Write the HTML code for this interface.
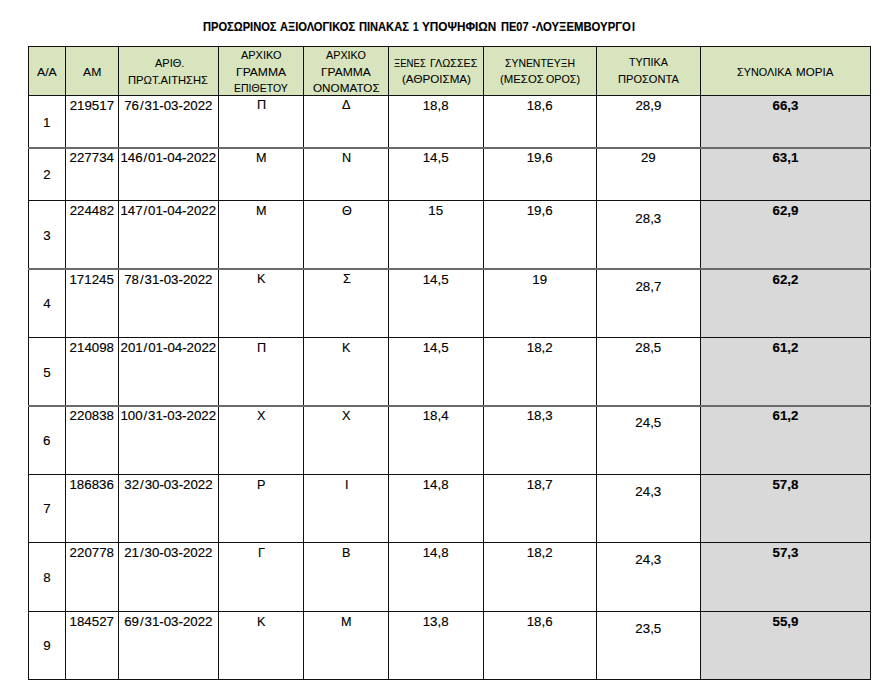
<!DOCTYPE html>
<html><head><meta charset="utf-8"><style>
html,body{margin:0;padding:0;background:#fff;}
body{width:895px;height:694px;position:relative;overflow:hidden;font-family:'Liberation Sans', sans-serif;color:#000;}
.f{position:absolute;}
.t{position:absolute;line-height:0;white-space:nowrap;transform-origin:0 0;-webkit-text-stroke:0.15px #000;}
.h{-webkit-text-stroke:0.06px #000;}
</style></head><body>
<div class="f" style="left:28px;top:46px;width:842px;height:49px;background:#d7e4bd"></div>
<div class="f" style="left:700px;top:96px;width:170px;height:583px;background:#d9d9d9"></div>
<div class="f" style="left:28px;top:46px;width:1px;height:634px;background:#111"></div>
<div class="f" style="left:65px;top:46px;width:1px;height:634px;background:#111"></div>
<div class="f" style="left:118px;top:46px;width:1px;height:634px;background:#111"></div>
<div class="f" style="left:218px;top:46px;width:1px;height:634px;background:#111"></div>
<div class="f" style="left:303px;top:46px;width:1px;height:634px;background:#111"></div>
<div class="f" style="left:388px;top:46px;width:1px;height:634px;background:#111"></div>
<div class="f" style="left:483px;top:46px;width:1px;height:634px;background:#111"></div>
<div class="f" style="left:596px;top:46px;width:1px;height:634px;background:#111"></div>
<div class="f" style="left:700px;top:46px;width:1px;height:634px;background:#111"></div>
<div class="f" style="left:870px;top:46px;width:1px;height:634px;background:#111"></div>
<div class="f" style="left:28px;top:46px;width:843px;height:1px;background:#111"></div>
<div class="f" style="left:28px;top:95px;width:843px;height:1px;background:#111"></div>
<div class="f" style="left:28px;top:147px;width:843px;height:2px;background:#6a6a6a"></div>
<div class="f" style="left:28px;top:200px;width:843px;height:1px;background:#111"></div>
<div class="f" style="left:28px;top:268px;width:843px;height:2px;background:#6a6a6a"></div>
<div class="f" style="left:28px;top:337px;width:843px;height:1px;background:#111"></div>
<div class="f" style="left:28px;top:405px;width:843px;height:2px;background:#6a6a6a"></div>
<div class="f" style="left:28px;top:474px;width:843px;height:1px;background:#111"></div>
<div class="f" style="left:28px;top:542px;width:843px;height:1px;background:#111"></div>
<div class="f" style="left:28px;top:611px;width:843px;height:1px;background:#111"></div>
<div class="f" style="left:28px;top:679px;width:843px;height:1px;background:#111"></div>
<div class="t" style="left:202.63px;top:26.72px;font-size:12.0px;font-weight:700;transform:scaleX(0.9261);">ΠΡΟΣΩΡΙΝΟΣ</div>
<div class="t" style="left:279.98px;top:26.72px;font-size:12.0px;font-weight:700;transform:scaleX(0.9272);">ΑΞΙΟΛΟΓΙΚΟΣ</div>
<div class="t" style="left:358.83px;top:26.72px;font-size:12.0px;font-weight:700;transform:scaleX(0.9245);">ΠΙΝΑΚΑΣ</div>
<div class="t" style="left:412.60px;top:26.84px;font-size:12.0px;font-weight:700;transform:scaleX(0.8333);">1</div>
<div class="t" style="left:422.18px;top:26.72px;font-size:12.0px;font-weight:700;transform:scaleX(0.9775);">ΥΠΟΨΗΦΙΩΝ</div>
<div class="t" style="left:500.54px;top:26.72px;font-size:12.0px;font-weight:700;transform:scaleX(0.9181);">ΠΕ07</div>
<div class="t" style="left:531.86px;top:26.72px;font-size:12.0px;font-weight:700;transform:scaleX(0.9450);">-ΛΟΥΞΕΜΒΟΥΡΓΟ</div>
<div class="t" style="left:632.46px;top:26.72px;font-size:12.0px;font-weight:700;transform:scaleX(0.8854);">Ι</div>
<div class="t h" style="left:37.20px;top:72.38px;font-size:11.3px;transform:scaleX(1.0851);">Α/Α</div>
<div class="t h" style="left:83.10px;top:72.38px;font-size:11.3px;transform:scaleX(1.0791);">ΑΜ</div>
<div class="t h" style="left:154.50px;top:62.93px;font-size:11.3px;transform:scaleX(0.9708);">ΑΡΙΘ.</div>
<div class="t h" style="left:128.40px;top:79.68px;font-size:11.3px;transform:scaleX(0.9902);">ΠΡΩΤ.ΑΙΤΗΣΗΣ</div>
<div class="t h" style="left:241.10px;top:54.98px;font-size:11.3px;transform:scaleX(0.9687);">ΑΡΧΙΚΟ</div>
<div class="t h" style="left:235.93px;top:71.68px;font-size:11.3px;transform:scaleX(1.0685);">ΓΡΑΜΜΑ</div>
<div class="t h" style="left:234.16px;top:87.58px;font-size:11.3px;transform:scaleX(0.9290);">ΕΠΙΘΕΤΟΥ</div>
<div class="t h" style="left:326.20px;top:54.98px;font-size:11.3px;transform:scaleX(0.9541);">ΑΡΧΙΚΟ</div>
<div class="t h" style="left:320.84px;top:71.68px;font-size:11.3px;transform:scaleX(1.0620);">ΓΡΑΜΜΑ</div>
<div class="t h" style="left:312.83px;top:87.58px;font-size:11.3px;transform:scaleX(1.0372);">ΟΝΟΜΑΤΟΣ</div>
<div class="t h" style="left:393.92px;top:62.58px;font-size:11.3px;transform:scaleX(0.8479);">ΞΕΝΕΣ</div>
<div class="t h" style="left:430.14px;top:62.58px;font-size:11.3px;transform:scaleX(0.9557);">ΓΛΩΣΣΕΣ</div>
<div class="t h" style="left:401.70px;top:78.88px;font-size:11.3px;transform:scaleX(1.0298);">(ΑΘΡΟΙΣΜΑ)</div>
<div class="t h" style="left:504.88px;top:62.68px;font-size:11.3px;transform:scaleX(0.9224);">ΣΥΝΕΝΤΕΥΞΗ</div>
<div class="t h" style="left:499.62px;top:78.88px;font-size:11.3px;transform:scaleX(1.0079);">(ΜΕΣΟΣ</div>
<div class="t h" style="left:546.17px;top:78.88px;font-size:11.3px;transform:scaleX(0.9508);">ΟΡΟΣ)</div>
<div class="t h" style="left:629.28px;top:62.38px;font-size:11.3px;transform:scaleX(0.9527);">ΤΥΠΙΚΑ</div>
<div class="t h" style="left:617.81px;top:79.28px;font-size:11.3px;transform:scaleX(0.9811);">ΠΡΟΣΟΝΤΑ</div>
<div class="t h" style="left:736.86px;top:71.68px;font-size:11.3px;transform:scaleX(0.9593);">ΣΥΝΟΛΙΚΑ</div>
<div class="t h" style="left:795.67px;top:71.68px;font-size:11.3px;transform:scaleX(1.0268);">ΜΟΡΙΑ</div>
<div class="t" style="left:43.04px;top:122.55px;font-size:13.3px;">1</div>
<div class="t" style="left:69.68px;top:105.60px;font-size:13.3px;">219517</div>
<div class="t" style="left:124.21px;top:105.60px;font-size:13.3px;">76<span style="margin:0 0.9px">/</span>31-03-2022</div>
<div class="t" style="left:257.09px;top:105.47px;font-size:13.3px;transform:scaleX(0.9500);">Π</div>
<div class="t" style="left:342.33px;top:105.47px;font-size:13.3px;transform:scaleX(0.9500);">Δ</div>
<div class="t" style="left:422.73px;top:105.60px;font-size:13.3px;">18,8</div>
<div class="t" style="left:526.73px;top:105.60px;font-size:13.3px;">18,6</div>
<div class="t" style="left:635.43px;top:105.60px;font-size:13.3px;">28,9</div>
<div class="t" style="left:772.50px;top:105.60px;font-size:13.3px;font-weight:700;">66,3</div>
<div class="t" style="left:43.18px;top:175.05px;font-size:13.3px;">2</div>
<div class="t" style="left:69.55px;top:158.10px;font-size:13.3px;">227734</div>
<div class="t" style="left:120.38px;top:158.10px;font-size:13.3px;">146<span style="margin:0 0.9px">/</span>01-04-2022</div>
<div class="t" style="left:256.39px;top:157.97px;font-size:13.3px;transform:scaleX(0.9500);">Μ</div>
<div class="t" style="left:341.89px;top:157.97px;font-size:13.3px;transform:scaleX(0.9500);">Ν</div>
<div class="t" style="left:422.73px;top:158.10px;font-size:13.3px;">14,5</div>
<div class="t" style="left:526.73px;top:158.10px;font-size:13.3px;">19,6</div>
<div class="t" style="left:640.98px;top:158.10px;font-size:13.3px;">29</div>
<div class="t" style="left:772.43px;top:158.10px;font-size:13.3px;font-weight:700;">63,1</div>
<div class="t" style="left:43.24px;top:235.55px;font-size:13.3px;">3</div>
<div class="t" style="left:69.68px;top:211.30px;font-size:13.3px;">224482</div>
<div class="t" style="left:120.38px;top:211.30px;font-size:13.3px;">147<span style="margin:0 0.9px">/</span>01-04-2022</div>
<div class="t" style="left:256.39px;top:211.17px;font-size:13.3px;transform:scaleX(0.9500);">Μ</div>
<div class="t" style="left:341.64px;top:211.17px;font-size:13.3px;transform:scaleX(0.9500);">Θ</div>
<div class="t" style="left:428.28px;top:211.30px;font-size:13.3px;">15</div>
<div class="t" style="left:526.73px;top:211.30px;font-size:13.3px;">19,6</div>
<div class="t" style="left:635.37px;top:218.70px;font-size:13.3px;">28,3</div>
<div class="t" style="left:772.50px;top:211.30px;font-size:13.3px;font-weight:700;">62,9</div>
<div class="t" style="left:43.24px;top:304.05px;font-size:13.3px;">4</div>
<div class="t" style="left:69.48px;top:279.60px;font-size:13.3px;">171245</div>
<div class="t" style="left:124.21px;top:279.60px;font-size:13.3px;">78<span style="margin:0 0.9px">/</span>31-03-2022</div>
<div class="t" style="left:257.03px;top:279.47px;font-size:13.3px;transform:scaleX(0.9500);">Κ</div>
<div class="t" style="left:342.52px;top:279.47px;font-size:13.3px;transform:scaleX(0.9500);">Σ</div>
<div class="t" style="left:422.73px;top:279.60px;font-size:13.3px;">14,5</div>
<div class="t" style="left:532.34px;top:279.60px;font-size:13.3px;">19</div>
<div class="t" style="left:635.43px;top:287.00px;font-size:13.3px;">28,7</div>
<div class="t" style="left:772.50px;top:279.60px;font-size:13.3px;font-weight:700;">62,2</div>
<div class="t" style="left:43.18px;top:372.55px;font-size:13.3px;">5</div>
<div class="t" style="left:69.62px;top:348.10px;font-size:13.3px;">214098</div>
<div class="t" style="left:120.52px;top:348.10px;font-size:13.3px;">201<span style="margin:0 0.9px">/</span>01-04-2022</div>
<div class="t" style="left:257.09px;top:347.97px;font-size:13.3px;transform:scaleX(0.9500);">Π</div>
<div class="t" style="left:341.83px;top:347.97px;font-size:13.3px;transform:scaleX(0.9500);">Κ</div>
<div class="t" style="left:422.73px;top:348.10px;font-size:13.3px;">14,5</div>
<div class="t" style="left:526.80px;top:348.10px;font-size:13.3px;">18,2</div>
<div class="t" style="left:635.37px;top:348.10px;font-size:13.3px;">28,5</div>
<div class="t" style="left:772.50px;top:348.10px;font-size:13.3px;font-weight:700;">61,2</div>
<div class="t" style="left:43.11px;top:441.05px;font-size:13.3px;">6</div>
<div class="t" style="left:69.62px;top:415.90px;font-size:13.3px;">220838</div>
<div class="t" style="left:120.38px;top:415.90px;font-size:13.3px;">100<span style="margin:0 0.9px">/</span>31-03-2022</div>
<div class="t" style="left:257.47px;top:415.77px;font-size:13.3px;transform:scaleX(0.9500);">Χ</div>
<div class="t" style="left:342.27px;top:415.77px;font-size:13.3px;transform:scaleX(0.9500);">Χ</div>
<div class="t" style="left:422.67px;top:415.90px;font-size:13.3px;">18,4</div>
<div class="t" style="left:526.73px;top:415.90px;font-size:13.3px;">18,3</div>
<div class="t" style="left:635.37px;top:422.70px;font-size:13.3px;">24,5</div>
<div class="t" style="left:772.50px;top:415.90px;font-size:13.3px;font-weight:700;">61,2</div>
<div class="t" style="left:43.18px;top:509.30px;font-size:13.3px;">7</div>
<div class="t" style="left:69.48px;top:485.10px;font-size:13.3px;">186836</div>
<div class="t" style="left:124.35px;top:485.10px;font-size:13.3px;">32<span style="margin:0 0.9px">/</span>30-03-2022</div>
<div class="t" style="left:257.28px;top:484.97px;font-size:13.3px;transform:scaleX(0.9500);">Ρ</div>
<div class="t" style="left:344.73px;top:484.97px;font-size:13.3px;transform:scaleX(0.9500);">Ι</div>
<div class="t" style="left:422.73px;top:485.10px;font-size:13.3px;">14,8</div>
<div class="t" style="left:526.80px;top:485.10px;font-size:13.3px;">18,7</div>
<div class="t" style="left:635.37px;top:491.90px;font-size:13.3px;">24,3</div>
<div class="t" style="left:772.43px;top:485.10px;font-size:13.3px;font-weight:700;">57,8</div>
<div class="t" style="left:43.18px;top:577.80px;font-size:13.3px;">8</div>
<div class="t" style="left:69.62px;top:553.10px;font-size:13.3px;">220778</div>
<div class="t" style="left:124.21px;top:553.10px;font-size:13.3px;">21<span style="margin:0 0.9px">/</span>30-03-2022</div>
<div class="t" style="left:257.85px;top:552.97px;font-size:13.3px;transform:scaleX(0.9500);">Γ</div>
<div class="t" style="left:342.08px;top:552.97px;font-size:13.3px;transform:scaleX(0.9500);">Β</div>
<div class="t" style="left:422.73px;top:553.10px;font-size:13.3px;">14,8</div>
<div class="t" style="left:526.80px;top:553.10px;font-size:13.3px;">18,2</div>
<div class="t" style="left:635.37px;top:559.90px;font-size:13.3px;">24,3</div>
<div class="t" style="left:772.50px;top:553.10px;font-size:13.3px;font-weight:700;">57,3</div>
<div class="t" style="left:43.24px;top:646.30px;font-size:13.3px;">9</div>
<div class="t" style="left:69.55px;top:622.10px;font-size:13.3px;">184527</div>
<div class="t" style="left:124.21px;top:622.10px;font-size:13.3px;">69<span style="margin:0 0.9px">/</span>31-03-2022</div>
<div class="t" style="left:257.03px;top:621.97px;font-size:13.3px;transform:scaleX(0.9500);">Κ</div>
<div class="t" style="left:341.19px;top:621.97px;font-size:13.3px;transform:scaleX(0.9500);">Μ</div>
<div class="t" style="left:422.73px;top:622.10px;font-size:13.3px;">13,8</div>
<div class="t" style="left:526.73px;top:622.10px;font-size:13.3px;">18,6</div>
<div class="t" style="left:635.37px;top:628.90px;font-size:13.3px;">23,5</div>
<div class="t" style="left:772.50px;top:622.10px;font-size:13.3px;font-weight:700;">55,9</div>
</body></html>
